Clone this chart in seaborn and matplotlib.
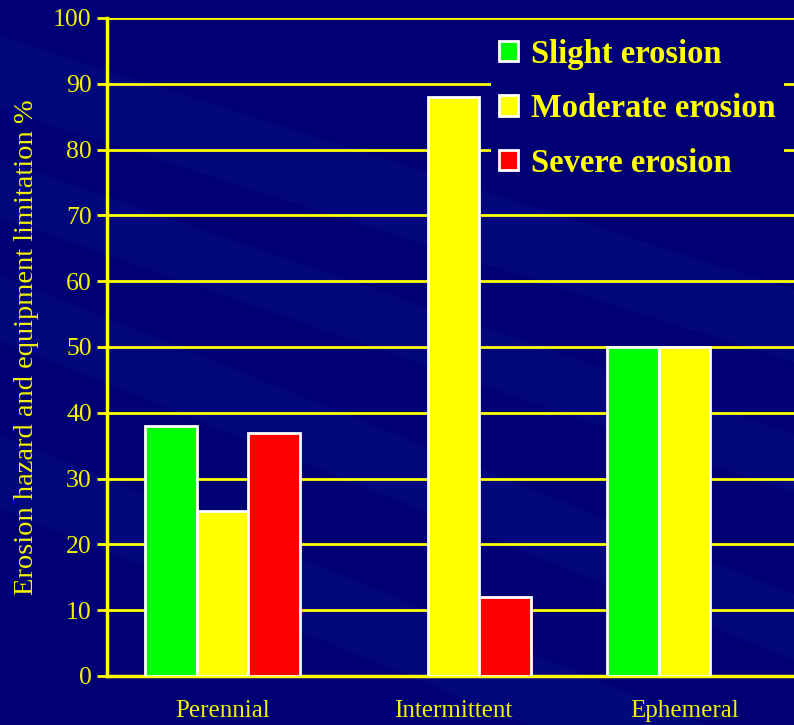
import numpy as np
import pandas as pd
import seaborn as sns
import matplotlib.pyplot as plt
from matplotlib.patches import Patch

# chart values
streams = ["Perennial", "Intermittent", "Ephemeral"]
erosion = ["Slight erosion", "Moderate erosion", "Severe erosion"]
slight = [38, 0, 50]
moderate = [25, 88, 50]
severe = [37, 12, 0]
bar_colors = ["#00FF00", "#FFFF00", "#FF0000"]

df = pd.DataFrame({
    "Stream": streams * 3,
    "Class": [erosion[0]] * 3 + [erosion[1]] * 3 + [erosion[2]] * 3,
    "Value": slight + moderate + severe,
})

bg = "#000074"
yel = "#FFFF00"
txt = "#F2F200"

sns.set_theme(style="white")
plt.rcParams["font.family"] = ["Liberation Serif", "DejaVu Serif"]

fig = plt.figure(figsize=(7.94, 7.25), dpi=100)
fig.patch.set_facecolor(bg)

# slide background: faint diagonal streaks, behind everything
bgax = fig.add_axes([0, 0, 1, 1], zorder=-5)
bgax.set_xlim(0, 1)
bgax.set_ylim(0, 1)
bgax.axis("off")
bands = [(0.95, 0.60, 0.10), (0.78, 0.40, 0.08), (0.62, 0.18, 0.09), (0.40, -0.05, 0.10)]
for y0, y1, w in bands:
    bgax.fill([0, 1, 1, 0], [y0, y1, y1 - w, y0 - w], color="#1428A0", alpha=0.2, lw=0)

ax = fig.add_axes([0.1348, 0.0676, 0.8652, 0.9076], zorder=1)
ax.set_facecolor("none")

sns.barplot(data=df, x="Stream", y="Value", hue="Class", hue_order=erosion,
            palette=bar_colors, width=0.67, gap=0, edgecolor="white",
            linewidth=2, saturation=1, ax=ax, zorder=3, legend=False)

for p in ax.patches:
    if p.get_height() == 0:
        p.set_visible(False)

ax.set_ylim(0, 100)
ax.set_xlim(-0.5, 2.474)
ax.set_yticks(np.arange(0, 101, 10))
ax.yaxis.grid(True, color=yel, linewidth=2, zorder=0)
ax.set_axisbelow(True)

for s in ["top", "right"]:
    ax.spines[s].set_visible(False)
for s in ["left", "bottom"]:
    ax.spines[s].set_color(yel)
    ax.spines[s].set_linewidth(2.5)

ax.set_xticks([0, 1, 2])
ax.set_xticklabels(streams)
ax.set_xticks([-0.5, 0.5, 1.5], minor=True)
ax.tick_params(axis="x", which="major", length=0, pad=17, labelsize=18, labelcolor=txt)
ax.tick_params(axis="x", which="minor", length=8, width=2, color=yel, direction="out")
ax.tick_params(axis="y", length=7, width=2, color=yel, direction="out",
               labelsize=18.5, labelcolor=txt, pad=4, left=True)

ax.set_xlabel("")
ax.set_ylabel("Erosion hazard and equipment limitation %", color=txt, fontsize=20.5, labelpad=10)

handles = [Patch(facecolor=c, edgecolor="white", linewidth=2) for c in bar_colors]
leg = ax.legend(handles, erosion, loc="upper right", bbox_to_anchor=(1.0, 0.996), frameon=True,
                fancybox=False, handlelength=0.6, handleheight=0.6, handletextpad=0.4,
                labelspacing=0.72, borderpad=0.25, borderaxespad=0.3,
                prop={"family": "Liberation Serif", "weight": "bold", "size": 23.5})
leg.get_frame().set_facecolor(bg)
leg.get_frame().set_edgecolor("none")
leg.get_frame().set_alpha(1)
for t in leg.get_texts():
    t.set_color(yel)

fig.savefig("out.png", dpi=100, facecolor=fig.get_facecolor())
